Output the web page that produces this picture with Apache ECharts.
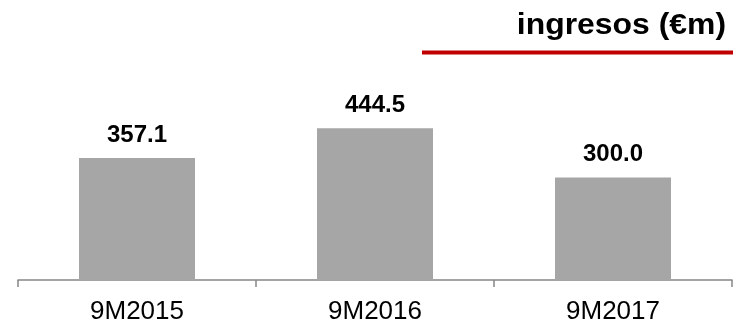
<!DOCTYPE html>
<html>
<head>
<meta charset="utf-8">
<script src="https://cdn.jsdelivr.net/npm/echarts@6/dist/echarts.min.js"></script>
<style>
  html, body { margin: 0; padding: 0; background: #ffffff; }
  #chart { width: 733px; height: 325px; }
</style>
</head>
<body>
<div id="chart"></div>
<script>
// Revenue by nine-month period
const periods = ['9M2015', '9M2016', '9M2017'];
const revenue = [357.1, 444.5, 300.0];
const titleText = 'ingresos (€m)';

const FONT = '"Liberation Sans", Arial, sans-serif';
const chart = echarts.init(document.getElementById('chart'), null, { renderer: 'canvas' });

chart.setOption({
  animation: false,
  backgroundColor: '#ffffff',
  textStyle: { fontFamily: FONT },
  graphic: [
    {
      // heading, right-aligned and slightly widened
      type: 'text',
      x: 726,
      y: 26,
      scaleX: 1.1,
      style: {
        text: titleText,
        font: 'bold 29px ' + FONT,
        fill: '#000000',
        textAlign: 'right',
        textVerticalAlign: 'middle'
      }
    },
    {
      // red rule under the heading
      type: 'line',
      shape: { x1: 422, y1: 52.5, x2: 733, y2: 52.5 },
      style: { stroke: '#C00000', lineWidth: 4 }
    }
  ],
  grid: { left: 18, right: 1, top: 75, bottom: 45 },
  xAxis: {
    type: 'category',
    data: periods,
    boundaryGap: true,
    axisLine: { lineStyle: { color: '#868686', width: 1.5 } },
    axisTick: { show: true, length: 7, lineStyle: { color: '#868686', width: 1.5 } },
    axisLabel: {
      color: '#000000',
      fontSize: 26,
      margin: 19,
      fontFamily: FONT
    }
  },
  yAxis: {
    type: 'value',
    min: 0,
    max: 600,
    show: false,
    splitLine: { show: false }
  },
  series: [{
    type: 'bar',
    data: revenue,
    barWidth: 116,
    itemStyle: { color: '#A6A6A6' },
    label: {
      show: true,
      position: 'top',
      distance: 11,
      formatter: p => p.value.toFixed(1),
      color: '#000000',
      fontWeight: 'bold',
      fontSize: 24,
      fontFamily: FONT
    }
  }]
});
</script>
</body>
</html>
